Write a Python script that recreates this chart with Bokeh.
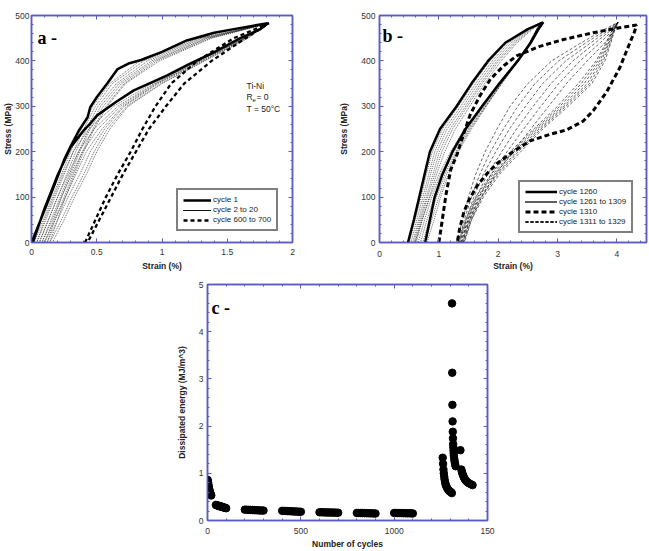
from bokeh.plotting import figure
from bokeh.layouts import column, row
from bokeh.models import (Range1d, LinearAxis, SingleIntervalTicker,
                          CustomJSTickFormatter, Label, Spacer, Title)
from bokeh.embed import file_html
from bokeh.resources import INLINE

# ---------------- (a) Ti-Ni, T = 50 °C : cycles 1, 2-20, 600-700 ----------------
# Strain (%) read at fixed stress levels (MPa) for each loading / unloading branch
A_STRESS = [0, 50, 100, 150, 200, 250, 300, 350, 400, 450, 483]

A_C1_STRAIN = [0.0, 0.14, 0.25, 0.30, 0.36, 0.43, 0.45, 0.50, 0.58, 0.66, 0.75, 0.84,
               1.00, 1.19, 1.40, 1.55, 1.81,
               1.755, 1.60, 1.397, 1.20, 1.04, 0.90, 0.784, 0.65, 0.503, 0.45, 0.40,
               0.30, 0.20, 0.10, 0.01]
A_C1_STRESS = [0, 100, 182, 212, 245, 276, 298, 320, 350, 382, 395, 402,
               420, 445, 462, 470, 483,
               470, 450, 419, 392, 368, 350, 335, 310, 280, 262, 247,
               210, 148, 75, 0]

A_DOTTED_CYCLES = [2, 3, 4, 6, 9, 13, 20]
A_DOTTED_LOAD = [
    [0.02, 0.09, 0.16, 0.23, 0.30, 0.38, 0.47, 0.60, 0.83, 1.28, 1.82],
    [0.04, 0.11, 0.18, 0.25, 0.32, 0.40, 0.49, 0.62, 0.86, 1.30, 1.82],
    [0.06, 0.13, 0.20, 0.27, 0.34, 0.42, 0.51, 0.65, 0.89, 1.32, 1.82],
    [0.08, 0.15, 0.22, 0.29, 0.36, 0.44, 0.53, 0.67, 0.92, 1.34, 1.82],
    [0.10, 0.17, 0.23, 0.30, 0.37, 0.45, 0.55, 0.69, 0.94, 1.35, 1.82],
    [0.12, 0.18, 0.25, 0.32, 0.39, 0.47, 0.57, 0.71, 0.96, 1.37, 1.82],
    [0.14, 0.20, 0.26, 0.33, 0.40, 0.48, 0.58, 0.72, 0.98, 1.38, 1.82],
]
A_DOTTED_UNLOAD = [
    [0.04, 0.10, 0.17, 0.24, 0.32, 0.44, 0.63, 0.92, 1.27, 1.62, 1.82],
    [0.06, 0.13, 0.20, 0.28, 0.36, 0.48, 0.66, 0.94, 1.28, 1.63, 1.82],
    [0.08, 0.16, 0.23, 0.31, 0.39, 0.51, 0.68, 0.95, 1.29, 1.63, 1.82],
    [0.10, 0.18, 0.26, 0.34, 0.42, 0.54, 0.70, 0.96, 1.30, 1.64, 1.82],
    [0.12, 0.20, 0.28, 0.37, 0.45, 0.56, 0.71, 0.97, 1.31, 1.64, 1.82],
    [0.14, 0.23, 0.31, 0.40, 0.48, 0.58, 0.73, 0.99, 1.32, 1.65, 1.82],
    [0.16, 0.25, 0.33, 0.42, 0.50, 0.60, 0.74, 1.00, 1.33, 1.66, 1.82],
]

A_DASHED_LOAD = [0.41, 0.49, 0.57, 0.66, 0.76, 0.85, 0.95, 1.07, 1.27, 1.55, 1.82]
A_DASHED_UNLOAD = [0.43, 0.52, 0.61, 0.70, 0.80, 0.90, 1.03, 1.17, 1.38, 1.64, 1.82]

# ---------------- (b) cycles 1260, 1261-1309, 1310, 1311-1329 ----------------
B_STRESS = [0, 50, 100, 150, 200, 250, 300, 350, 400, 440, 470, 485]

B_1260_LOAD = [0.48, 0.58, 0.67, 0.76, 0.85, 1.02, 1.30, 1.55, 1.83, 2.12, 2.50, 2.76]
B_1260_UNLOAD = [0.77, 0.85, 0.93, 1.06, 1.23, 1.45, 1.73, 2.02, 2.33, 2.55, 2.68, 2.76]

B_DOTTED_CYCLES = [1261, 1270, 1280, 1290, 1300, 1309]
B_DOTTED_LOAD = [
    [0.50, 0.60, 0.70, 0.79, 0.89, 1.06, 1.33, 1.58, 1.86, 2.15, 2.48, 2.74],
    [0.53, 0.63, 0.73, 0.83, 0.93, 1.10, 1.37, 1.62, 1.90, 2.18, 2.50, 2.73],
    [0.56, 0.66, 0.76, 0.86, 0.97, 1.14, 1.41, 1.66, 1.94, 2.22, 2.52, 2.73],
    [0.58, 0.68, 0.79, 0.90, 1.01, 1.19, 1.45, 1.70, 1.98, 2.26, 2.54, 2.72],
    [0.60, 0.70, 0.81, 0.93, 1.05, 1.23, 1.48, 1.73, 2.01, 2.29, 2.56, 2.72],
    [0.62, 0.72, 0.84, 0.96, 1.10, 1.28, 1.52, 1.77, 2.05, 2.32, 2.58, 2.72],
]
B_DOTTED_UNLOAD = [
    [0.60, 0.72, 0.85, 1.00, 1.20, 1.43, 1.71, 2.00, 2.31, 2.53, 2.66, 2.74],
    [0.65, 0.76, 0.88, 1.03, 1.23, 1.46, 1.74, 2.02, 2.32, 2.53, 2.66, 2.73],
    [0.69, 0.80, 0.92, 1.07, 1.26, 1.49, 1.76, 2.04, 2.33, 2.53, 2.65, 2.73],
    [0.73, 0.84, 0.96, 1.10, 1.29, 1.51, 1.78, 2.05, 2.33, 2.53, 2.65, 2.72],
    [0.77, 0.88, 1.00, 1.13, 1.31, 1.53, 1.79, 2.06, 2.34, 2.53, 2.65, 2.72],
    [0.80, 0.92, 1.03, 1.16, 1.33, 1.55, 1.80, 2.06, 2.34, 2.53, 2.65, 2.72],
]

B_1310_STRAIN = [1.00, 1.03, 1.12, 1.20, 1.31, 1.42, 1.53, 1.70, 1.87, 2.10, 2.31, 2.70,
                 3.10, 3.60, 4.00, 4.33,
                 4.30, 4.22, 4.05, 3.83, 3.60, 3.43, 3.15, 2.87, 2.54, 2.25, 1.98,
                 1.80, 1.64, 1.50, 1.42, 1.35, 1.31]
B_1310_STRESS = [0, 25, 105, 160, 195, 240, 282, 325, 360, 390, 411, 432,
                 447, 462, 472, 479,
                 465, 440, 385, 332, 290, 267, 248, 238, 224, 200, 174,
                 150, 124, 92, 66, 30, 0]

B_THIN_CYCLES = [1311, 1314, 1317, 1321, 1325, 1329]
B_THIN_LOAD = [
    [1.30, 1.40, 1.50, 1.62, 1.78, 1.98, 2.20, 2.50, 2.90, 3.40, 3.80, 4.02],
    [1.33, 1.43, 1.55, 1.69, 1.87, 2.09, 2.33, 2.62, 3.02, 3.48, 3.85, 4.02],
    [1.35, 1.46, 1.59, 1.75, 1.96, 2.19, 2.46, 2.75, 3.14, 3.56, 3.89, 4.02],
    [1.38, 1.49, 1.63, 1.82, 2.06, 2.31, 2.59, 2.89, 3.26, 3.64, 3.92, 4.02],
    [1.40, 1.52, 1.68, 1.88, 2.15, 2.43, 2.72, 3.02, 3.38, 3.72, 3.95, 4.02],
    [1.42, 1.55, 1.72, 1.95, 2.25, 2.55, 2.85, 3.15, 3.50, 3.80, 3.98, 4.02],
]
B_THIN_UNLOAD = [
    [1.33, 1.45, 1.62, 1.88, 2.20, 2.60, 3.00, 3.35, 3.65, 3.82, 3.93, 4.02],
    [1.35, 1.47, 1.65, 1.91, 2.24, 2.63, 3.04, 3.40, 3.68, 3.84, 3.94, 4.02],
    [1.37, 1.49, 1.67, 1.94, 2.27, 2.66, 3.08, 3.45, 3.71, 3.86, 3.95, 4.02],
    [1.39, 1.51, 1.70, 1.97, 2.31, 2.69, 3.11, 3.50, 3.74, 3.87, 3.96, 4.02],
    [1.41, 1.53, 1.72, 1.99, 2.34, 2.72, 3.14, 3.54, 3.77, 3.89, 3.96, 4.02],
    [1.43, 1.55, 1.75, 2.02, 2.38, 2.75, 3.18, 3.58, 3.80, 3.90, 3.97, 4.02],
]

# ---------------- (c) dissipated energy per cycle ----------------
C_CYC_1 = [1, 2, 3, 4, 5, 6, 7, 8, 9, 10, 12, 14, 16, 18, 20]
C_E_1 = [0.86, 0.83, 0.80, 0.77, 0.74, 0.72, 0.70, 0.68, 0.66, 0.64, 0.61, 0.59, 0.57, 0.55, 0.53]
C_CYC_2 = [45, 50, 55, 60, 65, 70, 75, 80, 85, 90, 95, 100]
C_E_2 = [0.33, 0.32, 0.32, 0.31, 0.30, 0.30, 0.29, 0.29, 0.28, 0.27, 0.27, 0.26]
C_CYC_3 = [200, 210, 220, 230, 240, 250, 260, 270, 280, 290, 300]
C_E_3 = [0.230, 0.228, 0.226, 0.224, 0.222, 0.220, 0.218, 0.216, 0.214, 0.212, 0.210]
C_CYC_4 = [400, 410, 420, 430, 440, 450, 460, 470, 480, 490, 500]
C_E_4 = [0.205, 0.203, 0.201, 0.199, 0.197, 0.195, 0.193, 0.191, 0.189, 0.187, 0.185]
C_CYC_5 = [600, 610, 620, 630, 640, 650, 660, 670, 680, 690, 700]
C_E_5 = [0.175, 0.174, 0.173, 0.172, 0.171, 0.170, 0.169, 0.168, 0.167, 0.166, 0.165]
C_CYC_6 = [800, 810, 820, 830, 840, 850, 860, 870, 880, 890, 900]
C_E_6 = [0.160, 0.159, 0.158, 0.157, 0.156, 0.155, 0.154, 0.152, 0.151, 0.150, 0.148]
C_CYC_7 = [1000, 1010, 1020, 1030, 1040, 1050, 1060, 1070, 1080, 1090, 1100]
C_E_7 = [0.160, 0.159, 0.158, 0.157, 0.156, 0.155, 0.154, 0.153, 0.152, 0.151, 0.150]
C_CYC_8 = [1260, 1262, 1264, 1266, 1268, 1270, 1273, 1276, 1280, 1285, 1290, 1295, 1300, 1305, 1309]
C_E_8 = [1.33, 1.20, 1.08, 1.00, 0.93, 0.87, 0.81, 0.76, 0.72, 0.68, 0.65, 0.63, 0.61, 0.60, 0.58]
C_CYC_9 = [1310, 1311, 1312, 1313, 1314, 1315, 1316, 1317, 1318, 1319, 1320, 1322, 1324, 1326, 1329]
C_E_9 = [4.60, 3.13, 2.45, 2.10, 1.88, 1.74, 1.62, 1.55, 1.48, 1.42, 1.37, 1.30, 1.25, 1.20, 1.15]
C_CYC_10 = [1355, 1360, 1363, 1366, 1370, 1374, 1378, 1383, 1388, 1394, 1400, 1410, 1420]
C_E_10 = [1.49, 1.08, 1.03, 0.99, 0.95, 0.91, 0.88, 0.85, 0.83, 0.81, 0.79, 0.77, 0.75]

C_X_TICK_TEXT = {1500: "150"}

FRAME_BLUE = "#5b5bc6"
SANS = "Liberation Sans"
SERIF = "Liberation Serif"


def loop_path(stress, load, unload):
    """Closed loading/unloading loop from two branches sampled on the same stress levels."""
    xs = list(load) + list(unload[::-1])
    ys = list(stress) + list(stress[::-1])
    return xs, ys


def panel(width, height, left, right, top, bottom, xr, yr, xstep, ystep,
          xlabel, ylabel, x_std, y_lab_std, x_lab_std, y_std=4):
    p = figure(width=width, height=height,
               x_range=Range1d(*xr), y_range=Range1d(*yr),
               output_backend="svg", toolbar_location=None,
               min_border_left=left, min_border_right=right,
               min_border_top=top, min_border_bottom=bottom)
    p.grid.visible = False
    p.outline_line_color = FRAME_BLUE
    p.outline_line_width = 1.5
    xt = SingleIntervalTicker(interval=xstep, num_minor_ticks=5)
    yt = SingleIntervalTicker(interval=ystep, num_minor_ticks=5)
    p.below[0].ticker = xt
    p.left[0].ticker = yt
    blank = CustomJSTickFormatter(code="return '';")
    p.add_layout(LinearAxis(ticker=xt, formatter=blank), "above")
    p.add_layout(LinearAxis(ticker=yt, formatter=blank), "right")
    for ax in p.axis:
        ax.axis_line_color = FRAME_BLUE
        ax.axis_line_width = 1.5
        ax.major_tick_line_color = FRAME_BLUE
        ax.minor_tick_line_color = FRAME_BLUE
        ax.major_tick_in = 4
        ax.major_tick_out = 0
        ax.minor_tick_in = 2
        ax.minor_tick_out = 0
        ax.major_label_text_font = SANS
        ax.major_label_text_font_size = "8.5px"
        ax.major_label_text_color = "#333333"
        ax.axis_label_text_font = SANS
        ax.axis_label_text_font_size = "8.5px"
        ax.axis_label_text_font_style = "bold"
        ax.axis_label_text_color = "#222222"
    for ax in (p.above[0], p.right[0]):
        ax.major_label_standoff = 0
        ax.major_label_text_font_size = "0px"
    bx, ly = p.below[0], p.left[0]
    bx.axis_label = xlabel
    bx.major_label_standoff = x_std
    bx.axis_label_standoff = x_lab_std
    ly.axis_label = ylabel
    ly.major_label_standoff = y_std
    ly.axis_label_standoff = y_lab_std
    return p


def letter(p, text, x, y):
    p.add_layout(Label(x=x, y=y, x_units="screen", y_units="screen", text=text,
                       text_font=SERIF, text_font_style="bold", text_font_size="18px",
                       text_baseline="alphabetic", text_color="black"))


def note(p, text, x, y, size="8.5px"):
    p.add_layout(Label(x=x, y=y, x_units="screen", y_units="screen", text=text,
                       text_font=SANS, text_font_size=size, text_baseline="alphabetic",
                       text_color="#222222"))


def style_legend(p, loc, glyph_w, row_h):
    lg = p.legend[0]
    lg.location = loc
    lg.border_line_color = "black"
    lg.border_line_width = 2
    lg.background_fill_color = "white"
    lg.background_fill_alpha = 1
    lg.label_text_font = SANS
    lg.label_text_font_size = "8px"
    lg.label_text_color = "#222222"
    lg.glyph_width = glyph_w
    lg.glyph_height = row_h
    lg.label_height = row_h
    lg.label_standoff = 2
    lg.spacing = 1
    lg.padding = 5
    lg.margin = 0


# ---- panel (a) ----
pa = panel(335, 274, 31, 43, 15, 32, (0, 2), (0, 500), 0.5, 100,
           "Strain (%)", None, 6, 2, 3, y_std=2)
# the stress label of this panel is packed tightly against the page edge
pa.add_layout(Title(text="Stress (MPa)", align="center", standoff=0, offset=0,
                    text_font=SANS, text_font_size="8.5px", text_font_style="bold",
                    text_color="#222222"), "left")
pa.line(A_C1_STRAIN, A_C1_STRESS, line_color="black", line_width=2.5,
        legend_label="cycle 1")
for ld, ul in zip(A_DOTTED_LOAD, A_DOTTED_UNLOAD):
    xs, ys = loop_path(A_STRESS, ld, ul)
    pa.line(xs, ys, line_color="black", line_width=0.6, line_dash="1 1",
            legend_label="cycle 2 to 20")
xs, ys = loop_path(A_STRESS, A_DASHED_LOAD, A_DASHED_UNLOAD)
pa.line(xs, ys, line_color="black", line_width=2.3, line_dash="4 3",
        legend_label="cycle 600 to 700")
style_legend(pa, (145, 11), 28, 8)
letter(pa, "a -", 6, 205)
note(pa, "Ti-Ni", 215, 157)
note(pa, "R", 215, 146)
note(pa, "e", 221, 143, "6px")
note(pa, "= 0", 225, 146)
note(pa, "T = 50°C", 215, 134)

# ---- panel (b) ----
pb = panel(314, 274, 44, 3, 12, 30, (0, 4.5), (0, 500), 1, 100,
           "Strain (%)", "Stress (MPa)", 8, 9, 1)
xs, ys = loop_path(B_STRESS, B_1260_LOAD, B_1260_UNLOAD)
pb.line(xs, ys, line_color="black", line_width=2.5, legend_label="cycle 1260")
for ld, ul in zip(B_DOTTED_LOAD, B_DOTTED_UNLOAD):
    xs, ys = loop_path(B_STRESS, ld, ul)
    pb.line(xs, ys, line_color="black", line_width=0.6, line_dash="1 1",
            legend_label="cycle 1261 to 1309")
pb.line(B_1310_STRAIN, B_1310_STRESS, line_color="black", line_width=3,
        line_dash="5 3", legend_label="cycle 1310")
for ld, ul in zip(B_THIN_LOAD, B_THIN_UNLOAD):
    xs, ys = loop_path(B_STRESS, ld, ul)
    pb.line(xs, ys, line_color="black", line_width=0.6, line_dash="3 2",
            legend_label="cycle 1311 to 1329")
style_legend(pb, (139, 9), 32, 9)
letter(pb, "b -", 3, 207)

# ---- panel (c) ----
pc = panel(479, 277, 37, 162, 10, 28, (0, 1500), (0, 5), 500, 1,
           "Number of cycles", "Dissipated energy (MJ/m^3)", 7, 9, 2)
pc.below[0].major_label_overrides = C_X_TICK_TEXT
cycles = (C_CYC_1 + C_CYC_2 + C_CYC_3 + C_CYC_4 + C_CYC_5 + C_CYC_6 + C_CYC_7
          + C_CYC_8 + C_CYC_9 + C_CYC_10)
energy = (C_E_1 + C_E_2 + C_E_3 + C_E_4 + C_E_5 + C_E_6 + C_E_7
          + C_E_8 + C_E_9 + C_E_10)
pc.scatter(cycles, energy, size=7.5, color="black")
letter(pc, "c -", 4, 213)

layout = column(row(pa, pb), row(Spacer(width=170, height=277), pc))

open("out.html", "w").write(file_html(layout, INLINE))
